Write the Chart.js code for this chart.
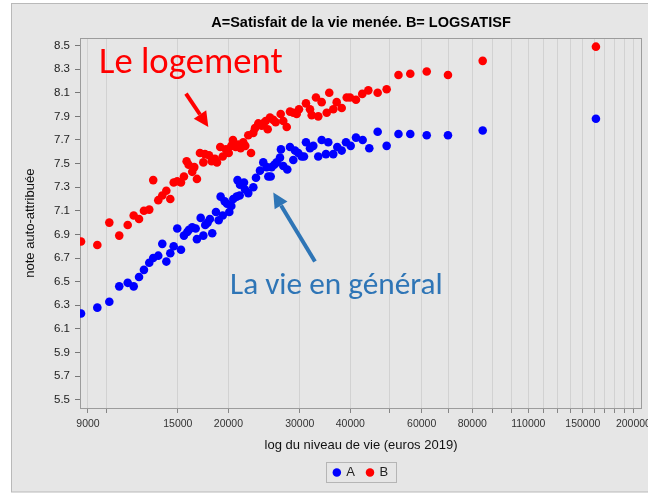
<!DOCTYPE html>
<html lang="fr">
<head>
<meta charset="utf-8">
<title>Satisfaction et niveau de vie</title>
<script src="https://cdn.jsdelivr.net/npm/chart.js@4.4.1/dist/chart.umd.min.js"></script>
<style>
  html, body { margin: 0; padding: 0; background: #fff; }
  canvas { display: block; }
</style>
</head>
<body>
<canvas id="chart" width="648" height="493"></canvas>
<script>
// values: living standard (euros 2019) and score out of 10
const incomeA = [
  8650, 9490, 10160, 10750, 11280, 11670, 12030, 12370, 12750, 13040,
  13420, 13730, 14050, 14370, 14650, 14950, 15270, 15530, 15830, 15980,
  16280, 16600, 16720, 17080, 17340, 17530, 17770, 18000, 18240, 18630,
  18920, 19130, 19360, 19580, 19840, 20100, 20330, 20560, 20960, 21060,
  21320, 21360, 21850, 21980, 22390, 23040, 23390, 23930, 24380, 24860,
  25090, 25430, 25570, 25950, 26310, 26810, 26960, 27320, 27950, 28380,
  28920, 29200, 29750, 30330, 30730, 31080, 31800, 32400, 33330, 33980,
  34820, 35280, 36300, 37140, 38080, 39020, 40080, 41300, 42900, 44550,
  46720, 49170, 52590, 56240, 61750, 69680, 84890, 161600
];
const satisfA = [
  6.23, 6.28, 6.33, 6.46, 6.49, 6.46, 6.54, 6.60, 6.66, 6.70,
  6.72, 6.82, 6.67, 6.74, 6.80, 6.95, 6.77, 6.89, 6.92, 6.94,
  6.96, 6.95, 6.86, 7.04, 6.89, 6.98, 7.00, 7.03, 6.91, 7.09,
  7.02, 7.22, 7.06, 7.18, 7.16, 7.09, 7.14, 7.20, 7.22, 7.36,
  7.23, 7.32, 7.34, 7.28, 7.25, 7.30, 7.38, 7.44, 7.51, 7.47,
  7.39, 7.39, 7.47, 7.49, 7.51, 7.55, 7.62, 7.48, 7.45, 7.64,
  7.53, 7.61, 7.59, 7.56, 7.56, 7.68, 7.63, 7.65, 7.56, 7.70,
  7.58, 7.68, 7.58, 7.64, 7.61, 7.68, 7.65, 7.72, 7.70, 7.63,
  7.77, 7.65, 7.75, 7.75, 7.74, 7.74, 7.78, 7.88
];
const incomeB = [
  8650, 9490, 10160, 10750, 11280, 11670, 12030, 12370, 12750, 13040,
  13420, 13730, 14050, 14370, 14650, 14950, 15270, 15530, 15770, 15950,
  16280, 16470, 16720, 17010, 17340, 17500, 17910, 18180, 18520, 18740,
  19090, 19360, 19720, 20030, 20330, 20520, 20840, 21150, 21440, 21760,
  22010, 22390, 22740, 23040, 23260, 23700, 24160, 24380, 24720, 25000,
  25330, 25810, 26160, 26920, 27320, 27860, 28380, 28920, 29480, 29870,
  31080, 31800, 32110, 32900, 33330, 33980, 34970, 35480, 36300, 37010,
  38080, 39180, 39920, 41300, 42800, 44300, 46720, 49170, 52590, 56240,
  61750, 69680, 84890, 161600
];
const logsatisfB = [
  6.84, 6.81, 7.00, 6.89, 6.98, 7.06, 7.03, 7.10, 7.11, 7.36,
  7.19, 7.23, 7.27, 7.20, 7.34, 7.35, 7.34, 7.39, 7.52, 7.49,
  7.43, 7.47, 7.37, 7.59, 7.51, 7.58, 7.57, 7.52, 7.54, 7.51,
  7.64, 7.56, 7.62, 7.59, 7.65, 7.70, 7.64, 7.66, 7.63, 7.68,
  7.65, 7.74, 7.59, 7.76, 7.80, 7.84, 7.82, 7.84, 7.86, 7.79,
  7.89, 7.87, 7.85, 7.92, 7.86, 7.81, 7.94, 7.93, 7.92, 7.96,
  8.01, 7.96, 7.91, 8.06, 7.90, 8.02, 7.93, 8.10, 7.96, 8.02,
  7.97, 8.06, 8.06, 8.04, 8.09, 8.12, 8.10, 8.13, 8.25, 8.26,
  8.28, 8.25, 8.37, 8.49
];

const xTicks = [9000, 10000, 15000, 20000, 30000, 40000, 50000, 60000, 70000, 80000, 90000,
  100000, 110000, 120000, 130000, 140000, 150000, 160000, 170000, 180000, 190000, 200000];
const xLabelled = [9000, 15000, 20000, 30000, 40000, 60000, 80000, 110000, 150000, 200000];
const yTicks = [5.5, 5.7, 5.9, 6.1, 6.3, 6.5, 6.7, 6.9, 7.1, 7.3, 7.5, 7.7, 7.9, 8.1, 8.3, 8.5];

// hand written notes on the slide, placed in data units
const notes = [
  { text: 'Le logement', color: '#ff0000', at: [9580, 8.266], width: 184 },
  { text: 'La vie en général', color: '#2e75b6', at: [20180, 6.395], width: 213 }
];
const arrows = [
  { color: '#ff0000', from: [15710, 8.092], to: [17840, 7.81] },
  { color: '#2e75b6', from: [32710, 6.671], to: [25810, 7.254] }
];

const FONT = '"Liberation Sans", Arial, sans-serif';
const NOTE_FONT = 'Carlito, Calibri, Lato, sans-serif';

// grey panel with its thin border (the picture is cropped on the right)
const panel = {
  id: 'panel',
  beforeDraw(chart){
    const c = chart.ctx;
    c.save();
    c.fillStyle = '#fff'; c.fillRect(0, 0, chart.width, chart.height);
    c.fillStyle = '#e6e6e6'; c.fillRect(11.5, 3.5, chart.width, 488.5);
    c.strokeStyle = '#b9b9b9'; c.lineWidth = 1; c.strokeRect(11.5, 3.5, chart.width, 488.5);
    c.restore();
  }
};

const frame = {
  id: 'frame',
  beforeDatasetsDraw(chart){
    const a = chart.chartArea, c = chart.ctx;
    c.save();
    c.strokeStyle = '#9c9c9c'; c.lineWidth = 1;
    c.strokeRect(Math.round(a.left) + 0.5, Math.round(a.top) + 0.5, Math.round(a.right - a.left) - 1, Math.round(a.bottom - a.top));
    c.restore();
  }
};

function drawArrow(c, x0, y0, x1, y1, color){
  const ang = Math.atan2(y1 - y0, x1 - x0), head = 15, half = 7.5;
  const bx = x1 - head * Math.cos(ang), by = y1 - head * Math.sin(ang);
  c.strokeStyle = color; c.lineWidth = 4; c.lineCap = 'butt';
  c.beginPath(); c.moveTo(x0, y0); c.lineTo(bx, by); c.stroke();
  c.fillStyle = color;
  c.beginPath();
  c.moveTo(x1, y1);
  c.lineTo(bx + half * Math.sin(ang), by - half * Math.cos(ang));
  c.lineTo(bx - half * Math.sin(ang), by + half * Math.cos(ang));
  c.closePath(); c.fill();
}

const annotations = {
  id: 'annotations',
  afterDatasetsDraw(chart){
    const c = chart.ctx, sx = chart.scales.x, sy = chart.scales.y;
    c.save();
    notes.forEach(n => {
      c.font = '30px ' + NOTE_FONT;
      const size = 30 * n.width / c.measureText(n.text).width;
      c.font = size.toFixed(1) + 'px ' + NOTE_FONT;
      c.fillStyle = n.color; c.textAlign = 'left'; c.textBaseline = 'alphabetic';
      c.fillText(n.text, sx.getPixelForValue(n.at[0]), sy.getPixelForValue(n.at[1]));
    });
    arrows.forEach(a => drawArrow(c,
      sx.getPixelForValue(a.from[0]), sy.getPixelForValue(a.from[1]),
      sx.getPixelForValue(a.to[0]), sy.getPixelForValue(a.to[1]), a.color));
    c.restore();
  }
};

// thin box around the legend entries
const legendBox = {
  id: 'legendBox',
  afterDraw(chart){
    const lg = chart.legend;
    if (!lg || !lg.legendHitBoxes || !lg.legendHitBoxes.length) return;
    const hb = lg.legendHitBoxes;
    const left = Math.min(...hb.map(h => h.left)), right = Math.max(...hb.map(h => h.left + h.width));
    const top = Math.min(...hb.map(h => h.top)), bottom = Math.max(...hb.map(h => h.top + h.height));
    const c = chart.ctx;
    c.save();
    c.strokeStyle = '#b5b5b5'; c.lineWidth = 1;
    c.strokeRect(Math.round(left - 8) + 0.5, Math.round(top - 4) + 0.5, Math.round(right - left + 16), Math.round(bottom - top + 7));
    c.restore();
  }
};

new Chart(document.getElementById('chart'), {
  type: 'scatter',
  data: {
    datasets: [
      { label: 'A', data: incomeA.map((v, i) => ({ x: v, y: satisfA[i] })),
        backgroundColor: '#0000ff', borderWidth: 0, pointRadius: 4.3, pointHoverRadius: 4.3 },
      { label: 'B', data: incomeB.map((v, i) => ({ x: v, y: logsatisfB[i] })),
        backgroundColor: '#ff0000', borderWidth: 0, pointRadius: 4.3, pointHoverRadius: 4.3 }
    ]
  },
  options: {
    responsive: false,
    animation: false,
    layout: { padding: { left: 12, right: 6, top: 4, bottom: 4 } },
    plugins: {
      title: {
        display: true, fullSize: false,
        text: 'A=Satisfait de la vie menée. B= LOGSATISF',
        color: '#000', font: { family: FONT, size: 14.5, weight: 'bold' },
        padding: { top: 10, bottom: 7 }
      },
      legend: {
        position: 'bottom', fullSize: false,
        labels: { usePointStyle: true, pointStyle: 'circle', boxWidth: 6, boxHeight: 6, padding: 12,
          color: '#222', font: { family: FONT, size: 13 } }
      },
      tooltip: { enabled: false }
    },
    scales: {
      x: {
        type: 'logarithmic', min: 8600, max: 210000,
        afterBuildTicks: s => { s.ticks = xTicks.map(v => ({ value: v })); },
        afterFit: s => { s.height = 46; s.paddingLeft = 0; s.paddingRight = 0; },
        ticks: { autoSkip: false, maxRotation: 0, minRotation: 0, padding: 5, color: '#333',
          font: { family: FONT, size: 10.5 },
          callback: v => xLabelled.includes(v) ? String(v) : '' },
        grid: { color: '#d2d2d2', tickColor: '#858585', tickLength: 5 },
        border: { display: false },
        title: { display: true, text: 'log du niveau de vie (euros 2019)', color: '#111',
          font: { family: FONT, size: 13 }, padding: { top: 0, bottom: 1 } }
      },
      y: {
        min: 5.43, max: 8.56,
        afterBuildTicks: s => { s.ticks = yTicks.map(v => ({ value: v })); },
        afterFit: s => { s.width = 68; s.paddingTop = 0; s.paddingBottom = 0; },
        ticks: { padding: 5, color: '#222', font: { family: FONT, size: 11.5 },
          callback: v => Number(v).toFixed(1) },
        grid: { drawOnChartArea: false, tickColor: '#777', tickLength: 5 },
        border: { display: false },
        title: { display: true, text: 'note auto-attribuée', color: '#111',
          font: { family: FONT, size: 13 }, padding: { top: 11, bottom: 0 } }
      }
    }
  },
  plugins: [panel, frame, annotations, legendBox]
});
</script>
</body>
</html>
